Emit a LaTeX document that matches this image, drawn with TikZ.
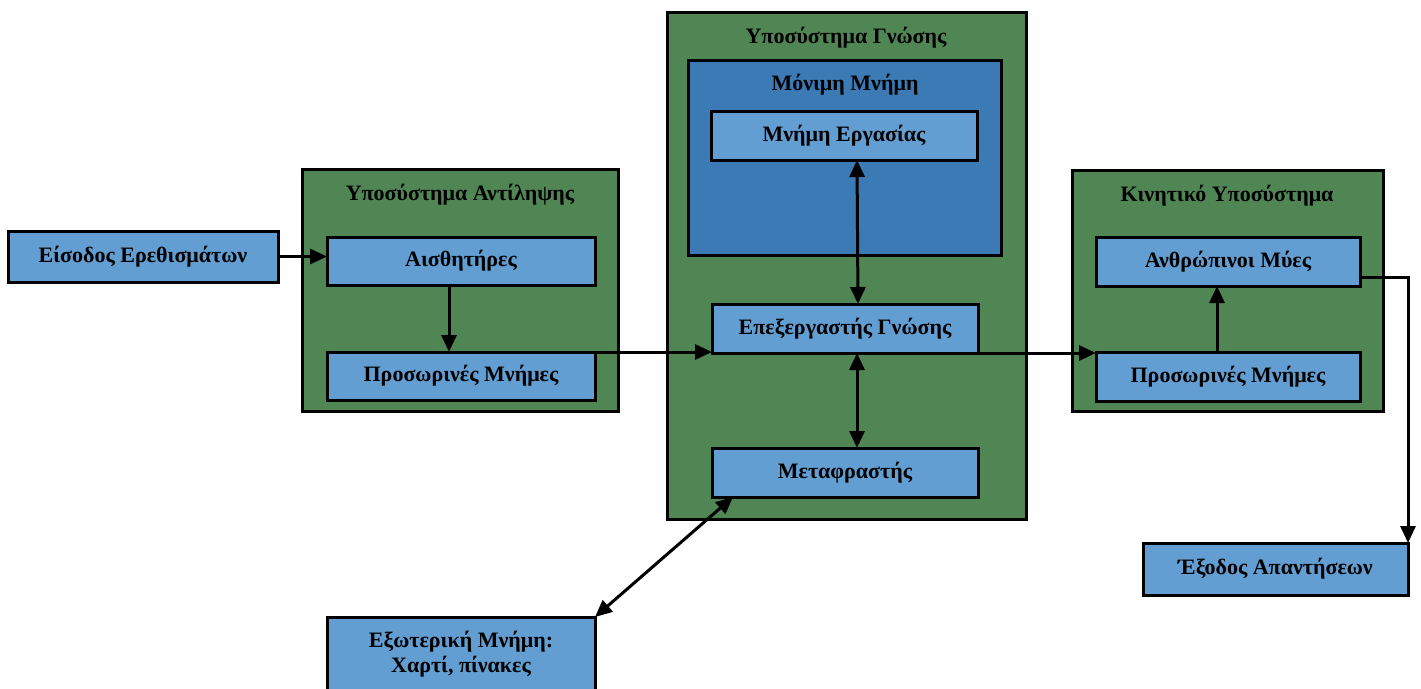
\documentclass[tikz,border=0pt]{standalone}
\usepackage{fontspec}
\setmainfont{Liberation Serif}
\usetikzlibrary{arrows.meta}
\definecolor{subgreen}{RGB}{80,133,84}
\definecolor{boxblue}{RGB}{98,158,210}
\definecolor{ltmblue}{RGB}{60,122,182}
\tikzset{
  base/.style={draw=black, line width=3pt, rectangle, inner sep=0pt, outer sep=0pt,
    font=\fontsize{22}{25}\selectfont\bfseries, align=center},
  greenbox/.style={base, fill=subgreen},
  bluebox/.style={base, fill=boxblue},
  darkbox/.style={base, fill=ltmblue},
  title/.style={font=\fontsize{22}{25}\selectfont\bfseries, inner sep=0pt},
  arr/.style={line width=3pt, -{Triangle[length=17pt,width=15pt]}},
  biarr/.style={line width=3pt, {Triangle[length=17pt,width=15pt]}-{Triangle[length=17pt,width=15pt]}}
}
\begin{document}
\begin{tikzpicture}[x=1pt, y=-1pt]
\useasboundingbox (0,0) rectangle (1421,688);
\fill[white] (0,0) rectangle (1421,688);

% subsystem frames
\node[greenbox, minimum width=316pt, minimum height=242pt] (perc) at (460,290) {};
\node[greenbox, minimum width=359pt, minimum height=507pt] (cogn) at (846.5,265.5) {};
\node[greenbox, minimum width=311pt, minimum height=241pt] (motor) at (1227.5,290.5) {};
\node[darkbox, minimum width=313pt, minimum height=195pt] (ltm) at (844.5,157.5) {};

% frame titles
\node[title] (perct) at (460,195) {Υποσύστημα Αντίληψης};
\node[title] (cognt) at (846,38) {Υποσύστημα Γνώσης};
\node[title] (ltmt) at (845,85) {Μόνιμη Μνήμη};
\node[title] (motort) at (1227,196) {Κινητικό Υποσύστημα};

% component boxes
\node[bluebox, minimum width=270pt, minimum height=51pt] (inp) at (143,256.5) {Είσοδος Ερεθισμάτων};
\node[bluebox, minimum width=268pt, minimum height=48pt] (ais) at (461,261) {Αισθητήρες};
\node[bluebox, minimum width=268pt, minimum height=48pt] (tmpL) at (461,376) {Προσωρινές Μνήμες};
\node[bluebox, minimum width=266pt, minimum height=49pt] (wm) at (844,135.5) {Μνήμη Εργασίας};
\node[bluebox, minimum width=266pt, minimum height=49pt] (proc) at (845,328.5) {Επεξεργαστής Γνώσης};
\node[bluebox, minimum width=266pt, minimum height=49pt] (interp) at (845,472.5) {Μεταφραστής};
\node[bluebox, minimum width=264pt, minimum height=49pt] (mus) at (1228,261.5) {Ανθρώπινοι Μύες};
\node[bluebox, minimum width=264pt, minimum height=49pt] (tmpR) at (1228,376.5) {Προσωρινές Μνήμες};
\node[bluebox, minimum width=265pt, minimum height=52pt] (out) at (1275.5,569) {Έξοδος Απαντήσεων};
\node[bluebox, minimum width=268pt, minimum height=74pt] (ext) at (461,654) {Εξωτερική Μνήμη:\\Χαρτί, πίνακες};

% connectors
\draw[arr] (inp.east) -- (inp.east -| ais.west);
\draw[arr] ([xshift=-12pt]ais.south) -- ([xshift=-12pt]tmpL.north);
\draw[arr] (tmpL.north east) -- (tmpL.north east -| proc.west);
\draw[arr] (proc.south east) -- (proc.south east -| tmpR.west);
\draw[biarr] ([xshift=13pt]wm.south) -- ([xshift=13pt]proc.north);
\draw[biarr] ([xshift=12pt]proc.south) -- ([xshift=12pt]interp.north);
\draw[arr] ([xshift=-11pt]tmpR.north) -- ([xshift=-11pt]mus.south);
\draw[arr] ([yshift=-16pt]mus.east) -| (out.north east);
\draw[biarr] (ext.north east) -- ([xshift=-112pt]interp.south);
\end{tikzpicture}
\end{document}
